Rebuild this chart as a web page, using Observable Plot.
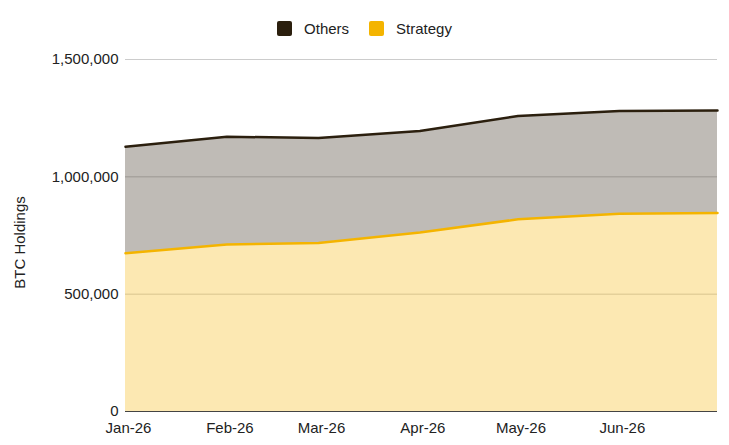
<!DOCTYPE html>
<html>
<head>
<meta charset="utf-8">
<script src="https://cdn.jsdelivr.net/npm/d3@7"></script>
<script src="https://cdn.jsdelivr.net/npm/@observablehq/plot@0.6"></script>
<style>
  body { margin: 0; background: #fff; font-family: "Liberation Sans", Arial, sans-serif; }
  #wrap { position: relative; width: 729px; height: 445px; }
  #legend { position: absolute; top: 20px; left: 0; width: 729px; display: flex; justify-content: center; align-items: center; font-size: 15px; color: #222; }
  .item { display: flex; align-items: center; margin: 0 10px; }
  .sw { width: 15px; height: 15px; border-radius: 2px; margin-right: 12px; }
</style>
</head>
<body>
<div id="wrap"><div id="legend"></div></div>
<script>
const months = ["2026-01-01","2026-02-01","2026-03-01","2026-04-01","2026-05-01","2026-06-01","2026-07-01"];
const strategy = [674000, 712000, 718000, 763000, 819000, 843000, 846000];
const others   = [454000, 459000, 447000, 432000, 440000, 438000, 437000];
const seriesNames = ["Strategy", "Others"];
const seriesColors = ["#f4b400", "#2b1f0e"];
const legendOrder = ["Others", "Strategy"];
const xTickLabels = ["Jan-26","Feb-26","Mar-26","Apr-26","May-26","Jun-26"];
const yTicks = [0, 500000, 1000000, 1500000];
const yLabel = "BTC Holdings";

const rows = [];
months.forEach((m, i) => {
  rows.push({date: new Date(m), series: "Strategy", value: strategy[i]});
  rows.push({date: new Date(m), series: "Others", value: others[i]});
});
const xTicks = months.slice(0, xTickLabels.length).map(m => new Date(m));

const chart = Plot.plot({
  width: 729,
  height: 445,
  marginLeft: 125,
  marginRight: 12,
  marginTop: 59,
  marginBottom: 34,
  style: {fontFamily: '"Liberation Sans", Arial, sans-serif', fontSize: "15px", color: "#222", background: "#fff"},
  x: {type: "utc", domain: [new Date(months[0]), new Date(months[months.length - 1])]},
  y: {domain: [0, 1500000]},
  color: {domain: seriesNames, range: seriesColors},
  marks: [
    Plot.gridY(yTicks.slice(1), {stroke: "#cccccc", strokeOpacity: 1}),
    Plot.areaY(rows, Plot.stackY({x: "date", y: "value", z: "series", fill: "series", fillOpacity: 0.3, order: seriesNames})),
    Plot.lineY(rows, Plot.stackY2({x: "date", y: "value", z: "series", stroke: "series", strokeWidth: 2.5, order: seriesNames})),
    Plot.ruleY([0], {stroke: "#444", strokeWidth: 1}),
    Plot.axisY({ticks: yTicks, tickFormat: d3.format(","), tickSize: 0, tickPadding: 7, label: null, fill: "#222", fontSize: 15}),
    Plot.text([yLabel], {text: d => d, frameAnchor: "left", textAnchor: "middle", dx: -105, dy: 7, rotate: -90, fontSize: 15, fill: "#222"}),
    Plot.axisX({ticks: xTicks, tickFormat: (d, i) => xTickLabels[i], tickSize: 0, tickPadding: 11, dx: 3, label: null, fill: "#222", fontSize: 15})
  ]
});
document.getElementById("wrap").appendChild(chart);

const legend = document.getElementById("legend");
legendOrder.forEach(name => {
  const item = document.createElement("div");
  item.className = "item";
  const sw = document.createElement("div");
  sw.className = "sw";
  sw.style.background = seriesColors[seriesNames.indexOf(name)];
  const t = document.createElement("span");
  t.textContent = name;
  item.appendChild(sw); item.appendChild(t);
  legend.appendChild(item);
});
</script>
</body>
</html>
